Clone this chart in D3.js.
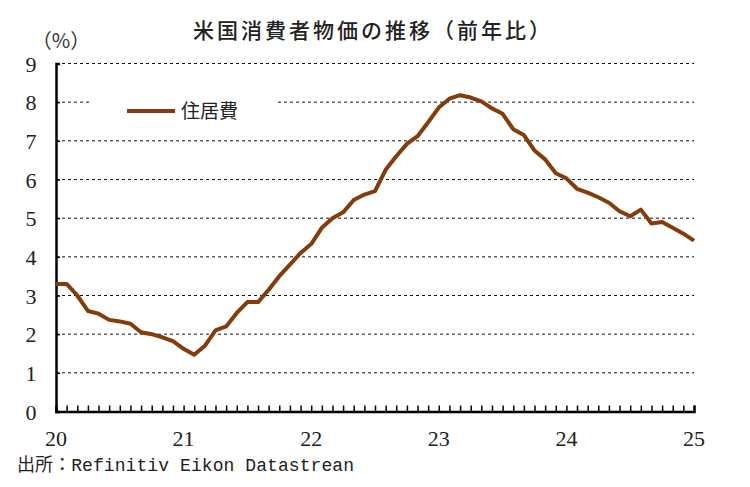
<!DOCTYPE html>
<html>
<head>
<meta charset="utf-8">
<script src="https://cdn.jsdelivr.net/npm/d3@7"></script>
<style>
  body { margin: 0; background: #ffffff; }
  svg { display: block; }
</style>
</head>
<body>
<div id="chart"></div>
<script>
// monthly YoY, Jan 2020 .. Jan 2025 (month index 0..60)
const yearLabels = ["20", "21", "22", "23", "24", "25"];
const yTicks = [0, 1, 2, 3, 4, 5, 6, 7, 8, 9];
const seriesName = "住居費";
const shelter = [
  3.3, 3.3, 3.0, 2.6, 2.53, 2.37, 2.33, 2.27, 2.05, 2.0, 1.92, 1.82,
  1.62, 1.47, 1.7, 2.1, 2.2, 2.55, 2.83, 2.83, 3.15, 3.5, 3.8, 4.1,
  4.33, 4.75, 5.0, 5.15, 5.47, 5.61, 5.7, 6.25, 6.6, 6.92, 7.12, 7.48,
  7.86, 8.09, 8.18, 8.12, 8.02, 7.84, 7.7, 7.3, 7.15, 6.75, 6.52, 6.16,
  6.03, 5.76, 5.66, 5.54, 5.4, 5.18, 5.05, 5.22, 4.86, 4.9, 4.75, 4.6,
  4.42
];

const width = 750;
const height = 487;
const lineColor = "#843c0c";
const numFont = "'Liberation Serif', 'DejaVu Serif', serif";
const jpFont = "'Noto Sans CJK JP', sans-serif";

const svg = d3.select("#chart")
  .append("svg")
  .attr("width", width)
  .attr("height", height);

const x = d3.scaleLinear()
  .domain([0, 60])
  .range([56, 694]);

const y = d3.scaleLinear()
  .domain([0, 9])
  .range([411.5, 63.5]);

// title
svg.append("text")
  .attr("x", 373)
  .attr("y", 38)
  .attr("text-anchor", "middle")
  .attr("font-family", jpFont)
  .attr("font-size", "21px")
  .attr("font-weight", "500")
  .attr("letter-spacing", "3px")
  .attr("fill", "#222")
  .text("米国消費者物価の推移（前年比）");

svg.append("text")
  .attr("x", 61)
  .attr("y", 48)
  .attr("text-anchor", "middle")
  .attr("font-family", jpFont)
  .attr("font-size", "20px")
  .attr("fill", "#333")
  .text("（%）");

// gridlines
svg.append("g")
  .selectAll("line")
  .data(yTicks.filter(d => d > 0))
  .enter()
  .append("line")
  .attr("x1", x(0))
  .attr("x2", x(60))
  .attr("y1", d => y(d))
  .attr("y2", d => y(d))
  .attr("stroke", "#111")
  .attr("stroke-width", 1)
  .attr("stroke-dasharray", "3,3");

// legend (white box hides the gridline)
svg.append("rect")
  .attr("x", 92)
  .attr("y", 94)
  .attr("width", 186)
  .attr("height", 32)
  .attr("fill", "#ffffff");

svg.append("line")
  .attr("x1", 127)
  .attr("x2", 175)
  .attr("y1", 111)
  .attr("y2", 111)
  .attr("stroke", lineColor)
  .attr("stroke-width", 4);

svg.append("text")
  .attr("x", 181)
  .attr("y", 118)
  .attr("font-family", jpFont)
  .attr("font-size", "19px")
  .attr("fill", "#222")
  .text(seriesName);

// y axis
const yAxis = svg.append("g")
  .attr("transform", `translate(${x(0)},0)`)
  .call(d3.axisLeft(y).tickValues(yTicks).tickSize(-4));

yAxis.select(".domain").attr("stroke", "#000").attr("stroke-width", 2.5);
yAxis.selectAll(".tick line").attr("stroke", "#000").attr("stroke-width", 1.5);
yAxis.selectAll(".tick text")
  .attr("font-family", numFont)
  .attr("font-size", "22px")
  .attr("fill", "#222")
  .attr("text-anchor", "middle")
  .attr("x", -25)
  .attr("dy", "0.35em");

// line
const line = d3.line()
  .x((d, i) => x(i))
  .y(d => y(d));

svg.append("path")
  .datum(shelter)
  .attr("fill", "none")
  .attr("stroke", lineColor)
  .attr("stroke-width", 4)
  .attr("stroke-linejoin", "round")
  .attr("d", line);

// x axis with monthly ticks
const xAxis = svg.append("g")
  .attr("transform", `translate(0,${y(0)})`)
  .call(d3.axisBottom(x).tickValues(d3.range(0, 61)).tickSize(-6).tickFormat(""));

xAxis.select(".domain").attr("stroke", "#000").attr("stroke-width", 2.5);
xAxis.selectAll(".tick line").attr("stroke", "#000").attr("stroke-width", 1.5);

svg.append("g")
  .selectAll("text")
  .data(yearLabels)
  .enter()
  .append("text")
  .attr("x", (d, i) => x(i * 12))
  .attr("y", 446)
  .attr("text-anchor", "middle")
  .attr("font-family", numFont)
  .attr("font-size", "22px")
  .attr("fill", "#222")
  .text(d => d);

// source
svg.append("text")
  .attr("x", 17)
  .attr("y", 471)
  .attr("font-family", "'Liberation Mono', 'Noto Sans CJK JP', monospace")
  .attr("font-size", "18px")
  .attr("fill", "#222")
  .attr("textLength", 337)
  .attr("lengthAdjust", "spacing")
  .text("出所：Refinitiv Eikon Datastrean");
</script>
</body>
</html>
